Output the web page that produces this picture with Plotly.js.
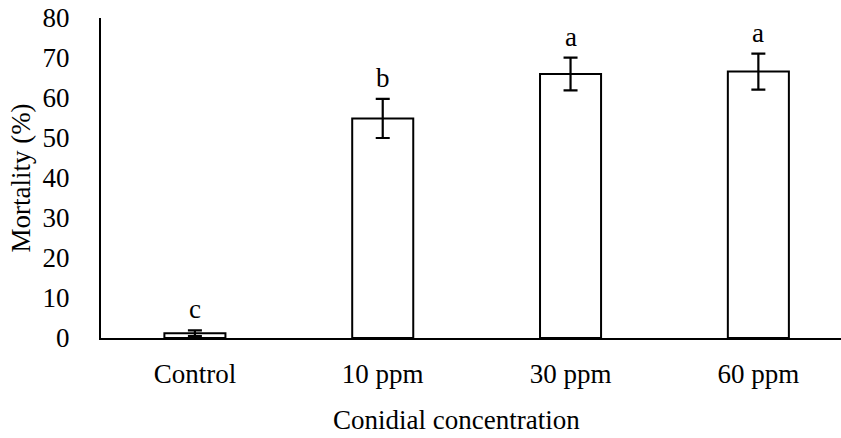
<!DOCTYPE html>
<html><head><meta charset="utf-8">
<script src="https://cdn.plot.ly/plotly-3.0.1.min.js"></script>
<style>html,body{margin:0;padding:0;background:#fff}</style>
</head><body>
<div id="chart" style="width:841px;height:438px"></div>
<script>
const categories = ["Control", "10 ppm", "30 ppm", "60 ppm"];
const mortality = [1.2, 54.9, 66.0, 66.6];
const errors = [0.7, 4.9, 4.1, 4.5];
const letters = ["c", "b", "a", "a"];
const yTicks = [0, 10, 20, 30, 40, 50, 60, 70, 80];
const xTitle = "Conidial concentration";
const yTitle = "Mortality (%)";

const font = {family: "Liberation Serif, Times New Roman, serif", color: "#000"};
const f = (s) => Object.assign({size: s}, font);

const trace = {
  type: "bar", x: categories, y: mortality, width: 0.325,
  marker: {color: "#fff", line: {color: "#000", width: 2}},
  error_y: {type: "data", array: errors, visible: true, color: "#000", thickness: 2.2, width: 7}
};

const annotations = categories.map((c, i) => ({
  x: c, y: mortality[i] + errors[i], text: letters[i], showarrow: false,
  yanchor: "bottom", yshift: 4, font: f(27)
}));
annotations.push({
  xref: "paper", yref: "paper", x: 0.481, y: 0, xanchor: "center", yanchor: "middle",
  yshift: -82, text: xTitle, showarrow: false, font: f(27)
});

const layout = {
  width: 841, height: 438,
  margin: {l: 101, r: 0, t: 18, b: 100},
  paper_bgcolor: "#fff", plot_bgcolor: "#fff",
  showlegend: false,
  font: f(27),
  xaxis: {
    type: "category", range: [-0.5, 3.44],
    showline: true, linecolor: "#000", linewidth: 2, ticks: "", showgrid: false,
    tickfont: f(27), ticklabelstandoff: 11
  },
  yaxis: {
    range: [0, 80], tickvals: yTicks, showline: true, linecolor: "#000", linewidth: 2,
    ticks: "", showgrid: false, zeroline: false,
    tickfont: f(27), ticklabelstandoff: 24,
    title: {text: yTitle, font: f(27), standoff: 4}
  },
  annotations: annotations
};

Plotly.newPlot("chart", [trace], layout, {displayModeBar: false, staticPlot: true});
</script>
</body></html>
